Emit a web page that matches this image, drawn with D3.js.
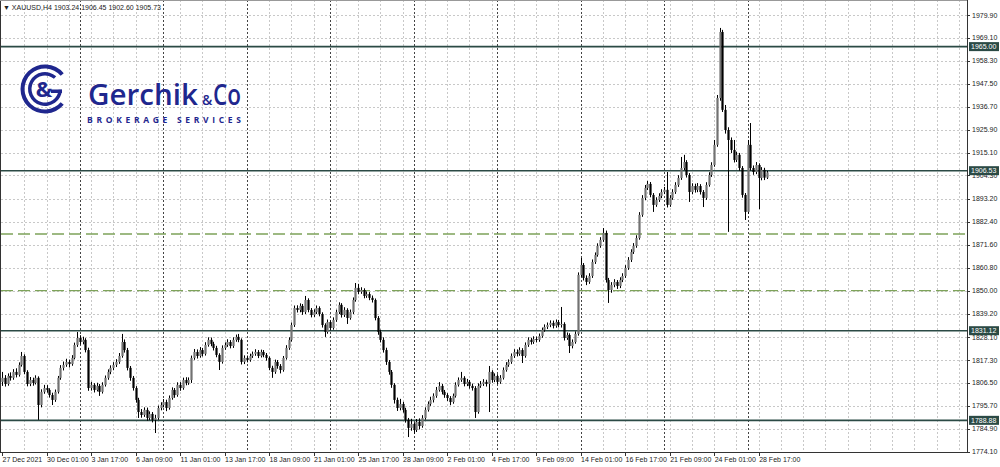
<!DOCTYPE html>
<html><head><meta charset="utf-8">
<script src="https://cdn.jsdelivr.net/npm/d3@7"></script>
<style>html,body{margin:0;padding:0;background:#fff;overflow:hidden}svg{display:block;font-family:"Liberation Sans",Arial,sans-serif}</style>
</head><body><svg id="c" width="1000" height="467"></svg>
<script>
const symbolName = "XAUUSD,H4";
const lastOHLC = ["1903.24","1906.45","1902.60","1905.73"];
const firstOpen = 1807.0;
const closes = [
1808.9,1806.0,1809.8,1808.9,1811.7,1810.3,1815.0,1819.2,1811.7,1806.0,1807.9,1806.5,1808.9,1796.1,1802.3,1804.1,
1803.2,1800.8,1798.5,1802.3,1808.9,1813.6,1815.0,1816.4,1815.4,1818.3,1824.4,1827.7,1825.8,1826.8,1822.0,1804.1,
1805.6,1803.2,1805.1,1802.3,1805.6,1808.9,1811.7,1813.6,1815.0,1816.4,1819.2,1825.8,1822.0,1813.6,1808.9,1804.1,
1798.5,1792.8,1791.4,1793.8,1790.0,1791.9,1789.1,1790.0,1794.7,1796.1,1797.5,1794.7,1799.4,1803.2,1800.8,1805.6,
1804.1,1807.9,1806.5,1807.9,1818.3,1821.1,1819.2,1822.0,1820.2,1824.4,1826.8,1824.9,1823.0,1819.7,1816.4,1823.0,
1824.4,1825.8,1823.9,1826.8,1828.2,1826.8,1816.4,1818.3,1817.3,1819.2,1820.2,1821.1,1819.2,1821.1,1819.7,1818.3,
1813.6,1811.7,1816.4,1814.5,1812.6,1818.3,1823.0,1826.8,1833.8,1841.8,1840.9,1842.8,1839.9,1845.6,1840.9,1838.5,
1839.9,1841.8,1839.0,1833.8,1830.5,1835.2,1832.4,1836.2,1839.9,1843.3,1838.5,1840.9,1837.1,1839.9,1845.6,1851.3,
1849.4,1850.3,1847.5,1848.4,1846.6,1845.6,1837.1,1830.5,1826.8,1822.0,1816.4,1811.7,1805.6,1798.5,1794.7,1796.6,
1793.8,1789.1,1785.3,1787.2,1784.3,1788.1,1786.2,1790.0,1793.8,1796.6,1798.5,1800.4,1803.2,1805.1,1802.3,1800.8,
1799.4,1797.5,1800.4,1805.6,1807.9,1808.9,1806.0,1807.0,1805.1,1804.1,1792.8,1805.1,1806.0,1807.0,1806.0,1811.7,
1807.9,1809.8,1807.0,1808.9,1812.6,1815.0,1816.4,1819.2,1821.1,1820.2,1822.0,1819.2,1824.4,1826.8,1825.8,1827.2,
1826.8,1828.6,1831.5,1832.9,1833.8,1834.8,1833.4,1835.2,1833.8,1834.3,1827.7,1829.1,1823.9,1825.8,1829.6,1857.4,
1862.1,1856.0,1854.1,1856.9,1863.5,1866.8,1871.1,1873.9,1877.2,1855.0,1850.3,1852.7,1854.1,1852.2,1855.0,1856.9,
1860.7,1864.5,1868.2,1871.1,1874.8,1885.7,1893.7,1898.4,1900.3,1895.1,1890.4,1892.7,1894.6,1896.5,1897.5,1890.4,
1893.7,1896.5,1899.8,1903.1,1907.8,1910.6,1904.5,1896.5,1899.3,1897.5,1899.3,1896.5,1893.7,1899.8,1904.5,1909.2,
1918.7,1940.8,1971.9,1935.2,1925.7,1921.0,1916.3,1911.6,1914.0,1907.8,1895.1,1887.1,1918.7,1907.8,1905.9,1909.2,
1903.1,1906.9,1903.24,1905.73];
const highs = [
1811.7,1810.2,1811.0,1811.5,1813.0,1813.4,1816.2,1821.1,1820.0,1812.5,1809.3,1809.0,1810.1,1809.6,1803.5,1805.6,
1805.5,1804.0,1801.9,1803.4,1809.8,1814.9,1816.6,1817.9,1817.5,1819.6,1825.5,1830.5,1829.0,1828.3,1827.6,1823.1,
1807.0,1806.4,1806.6,1806.0,1806.8,1810.0,1812.9,1814.8,1816.3,1817.7,1820.6,1829.6,1827.0,1823.0,1814.5,1809.8,
1805.0,1799.5,1794.2,1795.0,1794.9,1793.1,1792.8,1791.5,1795.8,1797.4,1798.9,1798.6,1800.6,1804.4,1804.1,1806.8,
1806.9,1809.0,1809.2,1809.1,1819.4,1822.5,1822.3,1823.4,1823.0,1825.7,1828.0,1827.9,1825.9,1824.0,1820.5,1824.2,
1825.6,1827.1,1826.7,1828.0,1829.3,1829.6,1827.5,1819.5,1819.4,1820.3,1821.3,1822.4,1822.0,1822.2,1822.0,1820.6,
1819.0,1814.6,1817.5,1817.3,1815.4,1819.2,1824.3,1828.0,1835.0,1843.0,1843.1,1844.0,1843.7,1847.5,1846.4,1841.8,
1841.2,1843.0,1842.6,1839.8,1834.6,1836.4,1836.0,1837.4,1841.0,1844.5,1844.1,1842.2,1841.7,1841.1,1846.8,1853.6,
1853.2,1851.6,1851.1,1849.6,1849.3,1847.7,1846.3,1838.0,1831.6,1828.0,1823.1,1817.3,1812.6,1806.4,1799.6,1799.0,
1797.6,1794.8,1790.0,1789.6,1788.0,1789.5,1789.8,1791.3,1795.0,1797.8,1800.0,1801.6,1804.6,1806.9,1806.0,1803.2,
1801.7,1800.3,1801.5,1806.8,1809.1,1811.7,1809.7,1808.4,1807.9,1806.2,1805.0,1806.3,1807.4,1808.3,1808.0,1814.5,
1812.5,1811.0,1810.6,1810.2,1813.8,1816.3,1817.6,1820.4,1822.4,1822.3,1823.3,1822.9,1825.6,1828.0,1827.8,1828.5,
1828.4,1829.8,1832.6,1834.1,1835.0,1836.0,1835.9,1836.4,1836.2,1842.3,1835.1,1830.3,1829.9,1827.0,1830.8,1858.6,
1865.4,1863.0,1857.2,1858.2,1864.7,1868.0,1872.3,1875.2,1879.5,1878.3,1856.0,1854.0,1855.4,1855.0,1856.3,1858.2,
1862.0,1865.8,1869.5,1872.4,1876.1,1887.0,1895.0,1899.8,1901.7,1901.2,1896.0,1894.0,1895.9,1897.8,1898.9,1905.9,
1895.0,1897.8,1901.1,1904.4,1913.0,1914.0,1911.5,1905.4,1900.6,1900.4,1900.7,1900.2,1897.4,1901.1,1905.8,1910.5,
1921.0,1942.2,1973.8,1972.9,1937.5,1927.0,1922.2,1921.0,1915.5,1914.9,1908.7,1896.0,1921.0,1929.0,1909.0,1910.6,
1910.0,1908.2,1907.9,1906.45];
const lows = [
1805.1,1804.8,1805.2,1807.6,1808.0,1809.1,1809.5,1814.2,1810.6,1804.9,1805.0,1805.2,1805.8,1789.1,1795.0,1801.4,
1801.9,1799.6,1796.1,1797.6,1801.5,1808.0,1812.4,1814.1,1813.8,1814.6,1817.6,1823.5,1824.6,1824.7,1820.9,1802.8,
1802.9,1802.0,1802.5,1800.4,1801.5,1804.8,1808.0,1810.6,1812.5,1814.0,1815.5,1818.4,1820.8,1812.4,1807.5,1802.9,
1797.2,1790.0,1790.1,1790.5,1788.7,1789.0,1787.9,1782.9,1789.1,1793.6,1795.0,1793.2,1793.9,1798.6,1799.5,1800.0,
1802.8,1803.3,1805.4,1805.6,1806.5,1817.4,1818.0,1818.4,1819.0,1819.4,1823.6,1823.8,1821.8,1818.6,1812.6,1815.6,
1822.1,1823.5,1822.8,1823.0,1825.9,1825.7,1815.2,1815.4,1816.2,1816.5,1818.3,1819.3,1818.2,1818.5,1818.6,1817.0,
1812.5,1808.9,1810.8,1813.2,1811.0,1811.8,1817.5,1822.1,1826.0,1832.9,1839.7,1839.8,1838.6,1839.0,1839.8,1837.4,
1837.6,1839.0,1837.9,1832.6,1828.2,1829.7,1831.3,1831.6,1835.3,1839.0,1837.3,1837.6,1834.3,1836.3,1839.0,1844.8,
1848.3,1848.5,1846.4,1846.6,1845.5,1844.4,1836.0,1829.2,1825.6,1820.8,1815.0,1810.4,1804.2,1796.8,1793.3,1793.6,
1792.5,1787.8,1781.0,1784.0,1782.5,1783.4,1784.6,1785.4,1789.2,1793.0,1795.7,1797.3,1799.5,1802.4,1801.1,1799.5,
1798.0,1796.0,1796.7,1799.6,1804.8,1807.0,1804.9,1805.0,1803.8,1802.9,1790.0,1792.0,1804.2,1805.1,1804.8,1792.8,
1806.6,1806.9,1805.9,1806.1,1808.1,1811.8,1814.1,1815.5,1818.3,1819.0,1819.3,1815.9,1818.4,1823.5,1824.6,1824.9,
1825.6,1825.9,1827.8,1830.6,1831.9,1832.8,1832.2,1832.5,1832.7,1832.6,1826.5,1826.8,1820.6,1822.8,1825.0,1828.8,
1856.5,1854.8,1852.6,1853.2,1856.0,1862.6,1866.0,1870.2,1873.0,1853.8,1844.2,1849.0,1851.6,1850.8,1851.2,1854.0,
1856.0,1859.8,1863.5,1867.3,1870.2,1874.0,1884.8,1892.6,1897.4,1894.0,1887.1,1889.5,1891.8,1893.6,1895.5,1889.2,
1889.5,1892.8,1895.6,1898.9,1902.2,1906.8,1903.3,1891.8,1895.4,1896.2,1896.4,1895.3,1889.4,1892.8,1899.0,1903.6,
1908.4,1917.8,1939.5,1934.2,1924.0,1877.7,1914.8,1910.4,1910.6,1906.5,1893.8,1883.3,1886.2,1906.6,1904.6,1904.9,
1888.4,1902.0,1902.1,1902.60];
const timeLabels = ["27 Dec 2021","30 Dec 01:00","3 Jan 17:00","6 Jan 09:00","11 Jan 01:00","13 Jan 17:00","18 Jan 09:00","21 Jan 01:00","25 Jan 17:00","28 Jan 09:00","2 Feb 01:00","4 Feb 17:00","9 Feb 09:00","14 Feb 01:00","16 Feb 17:00","21 Feb 09:00","24 Feb 01:00","28 Feb 17:00"];
const barsPerLabel = 16;
const barsPerGrid = 8;
const weekStartBars = [28,58,88,118,148,178,208,238,268];
const priceTicks = [1979.90,1969.10,1958.30,1947.50,1936.70,1925.90,1915.10,1904.30,1893.20,1882.40,1871.60,1860.80,1850.00,1839.20,1828.10,1817.30,1806.50,1795.70,1784.90,1774.10];
const levelLines = [1965.00,1906.53,1831.12,1788.88];
const dashedLevels = [1876.7,1850.0];
const logoName = "Gerchik", logoAmp = "&", logoCo = "Co", logoSub = "BROKERAGE SERVICES";

const W=1000,H=467, L=1, R=967, T=0, B=452;
const svg = d3.select("#c");
const n = closes.length;
const opens = closes.map((c,i)=> i===0 ? firstOpen : closes[i-1]);
const visibleBars = 347;
const x = d3.scaleLinear().domain([0, visibleBars]).range([2, 2 + visibleBars*2.7818]);
const y = d3.scaleLinear().domain([1774.10, 1979.90]).range([451.7, 15]);

svg.append("rect").attr("width",W).attr("height",H).attr("fill","#fff");

// grid
const g = svg.append("g");
g.selectAll(".hg").data(priceTicks).join("line")
  .attr("x1",L).attr("x2",R).attr("y1",d=>Math.round(y(d))+0.5).attr("y2",d=>Math.round(y(d))+0.5)
  .attr("stroke","#c8c8c8").attr("stroke-width",1).attr("stroke-dasharray","2,2");
const gridBars = d3.range(barsPerGrid, visibleBars, barsPerGrid);
g.selectAll(".vg").data(gridBars).join("line")
  .attr("x1",d=>Math.round(x(d))+0.5).attr("x2",d=>Math.round(x(d))+0.5).attr("y1",T).attr("y2",B)
  .attr("stroke","#c8c8c8").attr("stroke-width",1).attr("stroke-dasharray","2,2");
g.selectAll(".ws").data(weekStartBars).join("line")
  .attr("x1",d=>Math.round(x(d))+0.5).attr("x2",d=>Math.round(x(d))+0.5).attr("y1",T).attr("y2",B)
  .attr("stroke","#444").attr("stroke-width",1).attr("stroke-dasharray","2,2");

// logo
const blue="#1f278e";
const lg = svg.append("g");
const cx=45, cy=89;
const arc=d3.arc();
lg.append("path").attr("transform",`translate(${cx},${cy})`).attr("fill",blue)
  .attr("d",arc({innerRadius:20.5,outerRadius:24.5,startAngle:Math.PI/2+0.7,endAngle:Math.PI/2+2*Math.PI-0.7}));
lg.append("path").attr("transform",`translate(${cx},${cy})`).attr("fill",blue)
  .attr("d",arc({innerRadius:13.5,outerRadius:17,startAngle:Math.PI/2+0.05,endAngle:Math.PI/2+2*Math.PI-0.85}));
lg.append("rect").attr("x",cx+6).attr("y",cy+0.5).attr("width",11).attr("height",3.5).attr("fill",blue);
lg.append("text").attr("x",cx-1).attr("y",cy+8).attr("text-anchor","middle").attr("fill",blue)
  .attr("font-family","'Open Sans','DejaVu Sans',sans-serif").attr("font-weight",700).attr("font-size",22).text(logoAmp);
lg.append("text").attr("x",88).attr("y",105).attr("fill",blue)
  .attr("font-family","'Open Sans','DejaVu Sans',sans-serif").attr("font-weight",600).attr("font-size",28)
  .attr("textLength",110).attr("lengthAdjust","spacingAndGlyphs").text(logoName);
lg.append("text").attr("x",202).attr("y",105).attr("fill",blue)
  .attr("font-family","'Open Sans','DejaVu Sans',sans-serif").attr("font-weight",600).attr("font-size",14).text(logoAmp);
lg.append("text").attr("x",213).attr("y",105).attr("fill",blue)
  .attr("font-family","'Open Sans','DejaVu Sans',sans-serif").attr("font-weight",600).attr("font-size",28)
  .attr("textLength",28).attr("lengthAdjust","spacingAndGlyphs").text(logoCo);
lg.append("text").attr("x",87).attr("y",122.5).attr("fill",blue)
  .attr("font-family","'Open Sans','DejaVu Sans',sans-serif").attr("font-weight",700).attr("font-size",8.5)
  .attr("textLength",154).attr("lengthAdjust","spacing").text(logoSub);

// level lines
const lineCol="#2b4a45";
svg.selectAll(".lv").data(levelLines).join("line")
  .attr("x1",L).attr("x2",R).attr("y1",d=>y(d)).attr("y2",d=>y(d))
  .attr("stroke",lineCol).attr("stroke-width",1.6);
svg.selectAll(".dl").data(dashedLevels).join("line")
  .attr("x1",L).attr("x2",R).attr("y1",d=>y(d)).attr("y2",d=>y(d))
  .attr("stroke","#7ea35a").attr("stroke-width",1.3).attr("stroke-dasharray","12,5");

// candles
const cg = svg.append("g");
const idx = d3.range(n);
cg.selectAll(".wk").data(idx).join("line")
  .attr("x1",i=>Math.round(x(i))+0.5).attr("x2",i=>Math.round(x(i))+0.5)
  .attr("y1",i=>y(highs[i])).attr("y2",i=>y(lows[i]))
  .attr("stroke","#000").attr("stroke-width",1);
cg.selectAll(".bd").data(idx).join("rect")
  .attr("x",i=>Math.round(x(i))-0.6).attr("width",2.2)
  .attr("y",i=>y(Math.max(opens[i],closes[i])))
  .attr("height",i=>Math.max(1,Math.abs(y(opens[i])-y(closes[i]))))
  .attr("fill",i=>closes[i]>=opens[i]?"#727272":"#000");

// frame
svg.append("line").attr("x1",R+0.5).attr("x2",R+0.5).attr("y1",0).attr("y2",B).attr("stroke","#333");
svg.append("line").attr("x1",0).attr("x2",R+0.5).attr("y1",B+0.5).attr("y2",B+0.5).attr("stroke","#333");
svg.append("line").attr("x1",0.5).attr("x2",0.5).attr("y1",0).attr("y2",B).attr("stroke","#333");
svg.append("line").attr("x1",0).attr("x2",R).attr("y1",0.5).attr("y2",0.5).attr("stroke","#999");

// y axis
const ya = svg.append("g");
ya.selectAll("line").data(priceTicks).join("line")
  .attr("x1",R).attr("x2",R+3).attr("y1",d=>Math.round(y(d))+0.5).attr("y2",d=>Math.round(y(d))+0.5).attr("stroke","#333");
ya.selectAll("text").data(priceTicks).join("text")
  .attr("x",R+5).attr("y",d=>y(d)+2.5).attr("font-size",7).attr("fill","#222").text(d=>d.toFixed(2));

// x axis
const labelBars = timeLabels.map((t,k)=>k*barsPerLabel);
const xa = svg.append("g");
xa.selectAll("line").data(labelBars).join("line")
  .attr("x1",i=>Math.round(x(i))+0.5).attr("x2",i=>Math.round(x(i))+0.5).attr("y1",B).attr("y2",B+4).attr("stroke","#333");
xa.selectAll("text").data(timeLabels).join("text")
  .attr("x",(t,k)=>x(labelBars[k])+0.5).attr("y",462).attr("font-size",7).attr("fill","#222").text(t=>t);

// level labels
const lb = svg.append("g");
lb.selectAll("rect").data(levelLines).join("rect")
  .attr("x",R+2).attr("y",d=>y(d)-4.5).attr("width",30).attr("height",9).attr("fill",lineCol);
lb.selectAll("text").data(levelLines).join("text")
  .attr("x",R+4).attr("y",d=>y(d)+2.5).attr("font-size",7).attr("fill","#fff").text(d=>d.toFixed(2));

// header
svg.append("text").attr("x",3).attr("y",10).attr("font-size",7).attr("fill","#222")
  .text("\u25BC " + symbolName + "  " + lastOHLC.join(" "));
</script></body></html>
